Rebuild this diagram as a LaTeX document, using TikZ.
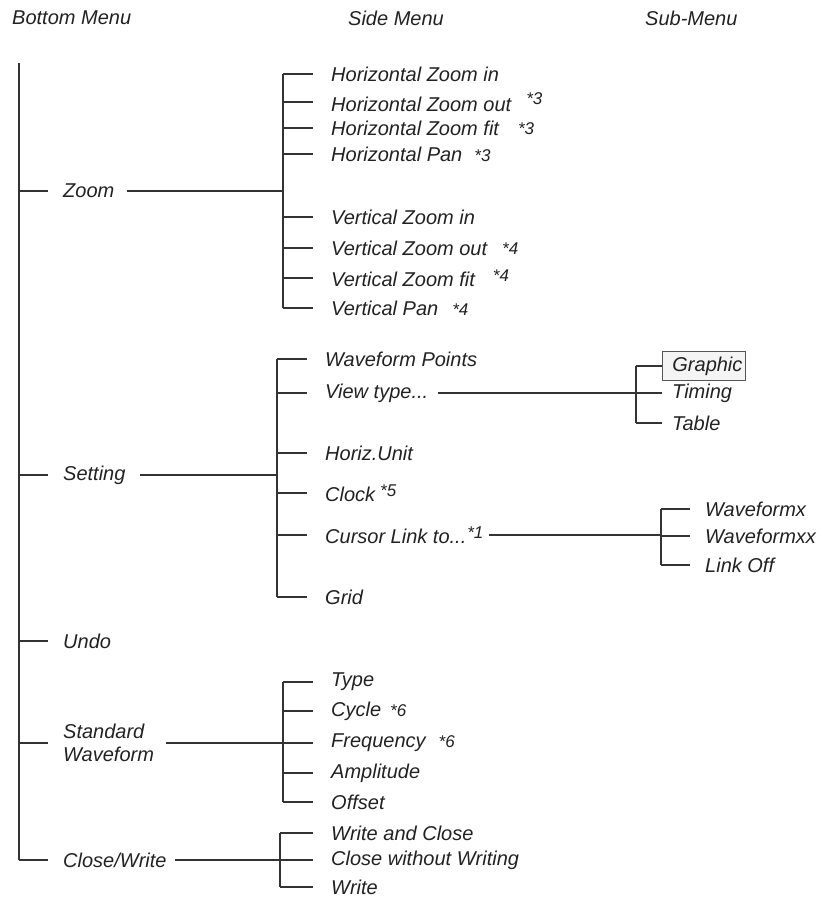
\documentclass[tikz,border=0pt]{standalone}
\usepackage{fontspec}
\setmainfont{Liberation Sans}
\definecolor{linec}{HTML}{333333}
\definecolor{txtc}{HTML}{222222}
\definecolor{boxc}{HTML}{555555}
\definecolor{boxf}{HTML}{F4F4F4}
\newcommand\mymark[3]{\hspace{#1}\raisebox{#2}{\fontsize{17}{18}\selectfont #3}}
\begin{document}
\begin{tikzpicture}[x=1pt,y=-1pt,
  ln/.style={draw=linec, line width=1.1pt},
  itm/.style={anchor=west, inner sep=0pt, text=txtc, font=\itshape\fontsize{20}{23}\selectfont},
]
\useasboundingbox (0,0) rectangle (831,901);
% headers
\node[itm] (hb) at (12,18) {Bottom Menu};
\node[itm] (hs) at (348,18) {Side Menu};
\node[itm] (hsub) at (645,18) {Sub-Menu};
% bottom menu
\coordinate (mtop) at (19,63);
\node[itm] (zoom) at (63,191) {Zoom};
\node[itm] (setting) at (63,475) {Setting};
\node[itm] (undo) at (63,641) {Undo};
\node[itm, align=left] (std) at (63,743) {Standard\\Waveform};
\node[itm] (close) at (63,860) {Close/Write};
\draw[ln] (mtop) -- (mtop |- close.west);
\foreach \n in {zoom,setting,undo,std,close}
  \draw[ln, shorten >=15pt] (mtop |- \n.west) -- (\n.west);
% zoom side
\coordinate (zj) at (283,0);
\node[itm] (hzi) at (331,74) {Horizontal Zoom in};
\node[itm] (hzo) at (331,102) {Horizontal Zoom out\mymark{15pt}{7pt}{*3}};
\node[itm] (hzf) at (331,128) {Horizontal Zoom fit\mymark{19pt}{1pt}{*3}};
\node[itm] (hzp) at (331,154) {Horizontal Pan\mymark{12pt}{0pt}{*3}};
\node[itm] (vzi) at (331,217) {Vertical Zoom in};
\node[itm] (vzo) at (331,248) {Vertical Zoom out\mymark{15pt}{1pt}{*4}};
\node[itm] (vzf) at (331,278) {Vertical Zoom fit\mymark{18pt}{5pt}{*4}};
\node[itm] (vzp) at (331,308) {Vertical Pan\mymark{14pt}{0pt}{*4}};
\draw[ln, shorten <=12pt] (zoom.east) -- (zj |- zoom.east);
\draw[ln] (zj |- hzi.west) -- (zj |- vzp.west);
\foreach \n in {hzi,hzo,hzf,hzp,vzi,vzo,vzf,vzp}
  \draw[ln, shorten >=18pt] (zj |- \n.west) -- (\n.west);
% setting side
\coordinate (sj) at (277,0);
\node[itm] (wp) at (325,359) {Waveform Points};
\node[itm] (vt) at (325,393) {View type...};
\node[itm] (hu) at (325,453) {Horiz.Unit};
\node[itm] (ck) at (325,493) {Clock\mymark{5pt}{5pt}{*5}};
\node[itm] (cl) at (325,535) {Cursor Link to...\mymark{1pt}{5pt}{*1}};
\node[itm] (gr) at (325,597) {Grid};
\draw[ln, shorten <=14pt] (setting.east) -- (sj |- setting.east);
\draw[ln] (sj |- wp.west) -- (sj |- gr.west);
\foreach \n in {wp,vt,hu,ck,cl,gr}
  \draw[ln, shorten >=18pt] (sj |- \n.west) -- (\n.west);
% view type sub
\coordinate (vj) at (636,0);
\node[itm, draw=boxc, fill=boxf, line width=0.8pt, inner xsep=3pt, inner ysep=5pt] (graphic) at (662,366) {\hspace{7pt}Graphic};
\node[itm] (timing) at (672,393) {Timing};
\node[itm] (table) at (672,423) {Table};
\draw[ln, shorten <=10pt] (vt.east) -- (vj |- vt.east);
\draw[ln] (vj |- graphic.west) -- (vj |- table.west);
\draw[ln] (vj |- graphic.west) -- (graphic.west);
\foreach \n in {timing,table}
  \draw[ln, shorten >=10pt] (vj |- \n.west) -- (\n.west);
% cursor sub
\coordinate (cj) at (661,0);
\node[itm] (wx) at (705,509) {Waveformx};
\node[itm] (wxx) at (705,536) {Waveformxx};
\node[itm] (lo) at (705,565) {Link Off};
\draw[ln, shorten <=5pt] (cl.east) -- (cj |- cl.east);
\draw[ln] (cj |- wx.west) -- (cj |- lo.west);
\foreach \n in {wx,wxx,lo}
  \draw[ln, shorten >=15pt] (cj |- \n.west) -- (\n.west);
% standard waveform side
\coordinate (stj) at (283,0);
\node[itm] (ty) at (331,682) {Type};
\node[itm] (cy) at (331,711) {Cycle\mymark{9pt}{0pt}{*6}};
\node[itm] (fr) at (331,743) {Frequency\mymark{13pt}{0pt}{*6}};
\node[itm] (am) at (331,773) {Amplitude};
\node[itm] (of) at (331,802) {Offset};
\draw[ln, shorten <=12pt] (std.east) -- (stj |- std.east);
\draw[ln] (stj |- ty.west) -- (stj |- of.west);
\foreach \n in {ty,cy,fr,am,of}
  \draw[ln, shorten >=18pt] (stj |- \n.west) -- (\n.west);
% close/write side
\coordinate (cwj) at (280,0);
\node[itm] (wac) at (331,833) {Write and Close};
\node[itm] (cww) at (331,860) {Close without Writing};
\node[itm] (wr) at (331,887) {Write};
\draw[ln, shorten <=8pt] (close.east) -- (cwj |- close.east);
\draw[ln] (cwj |- wac.west) -- (cwj |- wr.west);
\foreach \n in {wac,cww,wr}
  \draw[ln, shorten >=18pt] (cwj |- \n.west) -- (\n.west);
\end{tikzpicture}
\end{document}
